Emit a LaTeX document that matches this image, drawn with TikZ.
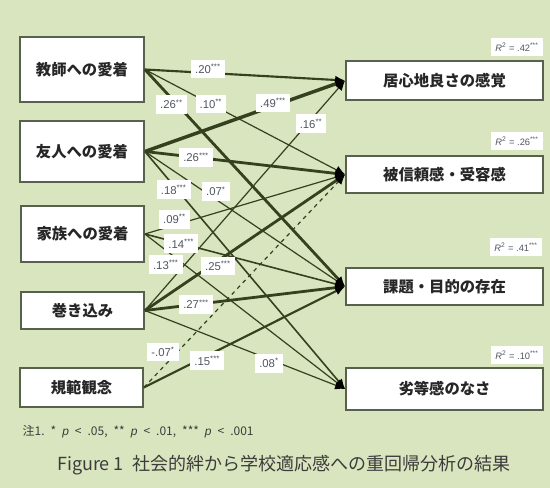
\documentclass[tikz,border=0pt]{standalone}
\usepackage{fontspec}
\setmainfont{Liberation Sans}
\newfontfamily\jp{Noto Sans CJK JP}
\newfontfamily\lat{Liberation Sans}
\usetikzlibrary{arrows.meta}
\definecolor{bg}{RGB}{217,229,190}
\definecolor{edgec}{RGB}{52,64,30}
\definecolor{boxline}{RGB}{88,96,78}
\definecolor{labtext}{RGB}{80,86,98}
\definecolor{captext}{RGB}{60,60,60}
\tikzset{
  box/.style={draw=boxline, fill=white, line width=1.3pt, inner sep=0pt,
    font=\jp\bfseries\fontsize{11.5}{13}\selectfont, text=black!85},
  rel/.style={draw=edgec, -{Latex[length=7.5pt,width=6.5pt,color=black]}},
  lwa/.style={rel, line width=0.9pt},
  lwb/.style={rel, line width=1.2pt},
  lwc/.style={rel, line width=1.6pt},
  lwd/.style={rel, line width=2.1pt},
  lwe/.style={rel, line width=2.6pt},
  lab/.style={fill=white, text=labtext, font=\fontsize{8.5}{9}\selectfont,
    inner xsep=3pt, inner ysep=3.5pt},
  rsq/.style={fill=white, text=labtext, font=\fontsize{7}{8}\selectfont,
    inner xsep=3pt, inner ysep=3.5pt}
}
\begin{document}
\begin{tikzpicture}[x=0.75pt, y=-0.75pt]
\fill[bg] (0,0) rectangle (550,488);
\useasboundingbox (0,0) rectangle (550,488);
% left boxes
\node[box, minimum width=124*0.75pt, minimum height=65*0.75pt] (T) at (82,69.5) {教師への愛着};
\node[box, minimum width=124*0.75pt, minimum height=61*0.75pt] (Y) at (82,151.5) {友人への愛着};
\node[box, minimum width=123*0.75pt, minimum height=56*0.75pt] (F) at (82.5,234) {家族への愛着};
\node[box, minimum width=123*0.75pt, minimum height=37*0.75pt] (M) at (82.5,310.5) {巻き込み};
\node[box, minimum width=123*0.75pt, minimum height=39*0.75pt] (N) at (81.5,387.5) {規範観念};
% right boxes
\node[box, minimum width=197*0.75pt, minimum height=39*0.75pt] (I) at (444.5,80.5) {居心地良さの感覚};
\node[box, minimum width=197*0.75pt, minimum height=37*0.75pt] (H) at (444.5,174.5) {被信頼感・受容感};
\node[box, minimum width=197*0.75pt, minimum height=37*0.75pt] (K) at (444.5,286.5) {課題・目的の存在};
\node[box, minimum width=197*0.75pt, minimum height=42*0.75pt] (R) at (444.5,389) {劣等感のなさ};
% R squared
\node[rsq] (r1) at (517,47) {\textit{R}\textsuperscript{2} = .42\textsuperscript{***}};
\node[rsq] (r2) at (517,141) {\textit{R}\textsuperscript{2} = .26\textsuperscript{***}};
\node[rsq] (r3) at (516,247) {\textit{R}\textsuperscript{2} = .41\textsuperscript{***}};
\node[rsq] (r4) at (517,355) {\textit{R}\textsuperscript{2} = .10\textsuperscript{***}};
% connectors
\draw[lwc] (T.east) -- (I.west) coordinate[pos=0.315] (cTI);
\draw[lwa] (T.east) -- (H.west) coordinate[pos=0.33] (cTH);
\draw[lwd] (T.east) -- (K.west) coordinate[pos=0.133] (cTK);
\draw[lwe] (Y.east) -- (I.west) coordinate[pos=0.64] (cYI);
\draw[lwd] (Y.east) -- (H.west) coordinate[pos=0.256] (cYH);
\draw[lwa] (Y.east) -- (K.west) coordinate[pos=0.355] (cYK);
\draw[lwb] (Y.east) -- (R.west) coordinate[pos=0.144] (cYR);
\draw[lwa] (F.east) -- (H.west) coordinate[pos=0.148] (cFH);
\draw[lwb] (F.east) -- (K.west) coordinate[pos=0.182] (cFK);
\draw[lwa] (F.east) -- (R.west) coordinate[pos=0.12] (cFR);
\draw[lwa] (M.east) -- (I.west) coordinate[pos=0.83] (cMI);
\draw[lwd] (M.east) -- (H.west) coordinate[pos=0.365] (cMH);
\draw[lwd] (M.east) -- (K.west) coordinate[pos=0.256] (cMK);
\draw[lwa] (M.east) -- (R.west) coordinate[pos=0.62] (cMR);
\draw[lwa, dashed] (N.east) -- (H.west) coordinate[pos=0.12] (cNH);
\draw[lwc] (N.east) -- (K.west) coordinate[pos=0.315] (cNK);
% coefficient labels
\node[lab] (lTI) at ([shift={(0,-4)}]cTI) {.20\textsuperscript{***}};
\node[lab] (lTH) at (cTH) {.10\textsuperscript{**}};
\node[lab] (lTK) at ([shift={(0,6)}]cTK) {.26\textsuperscript{**}};
\node[lab] (lYI) at ([shift={(0,-3)}]cYI) {.49\textsuperscript{***}};
\node[lab] (lYH) at (cYH) {.26\textsuperscript{***}};
\node[lab] (lYK) at ([shift={(0,-8)}]cYK) {.07\textsuperscript{*}};
\node[lab] (lYR) at ([shift={(0,4)}]cYR) {.18\textsuperscript{***}};
\node[lab] (lFH) at ([shift={(0,-6)}]cFH) {.09\textsuperscript{**}};
\node[lab] (lFK) at (cFK) {.14\textsuperscript{***}};
\node[lab] (lFR) at ([shift={(-3,12)}]cFR) {.13\textsuperscript{***}};
\node[lab] (lMI) at ([shift={(0,4)}]cMI) {.16\textsuperscript{**}};
\node[lab] (lMH) at ([shift={(0,5)}]cMH) {.25\textsuperscript{***}};
\node[lab] (lMK) at (cMK) {.27\textsuperscript{***}};
\node[lab] (lMR) at ([shift={(0,4)}]cMR) {.08\textsuperscript{*}};
\node[lab] (lNH) at ([shift={(-5,-10)}]cNH) {-.07\textsuperscript{*}};
\node[lab] (lNK) at ([shift={(0,5)}]cNK) {.15\textsuperscript{***}};
% note and caption
\node[anchor=west, text=captext, font=\jp\fontsize{9}{10}\selectfont] (note) at (18,432)
  {注1.\enspace*\enspace{\lat\itshape p}\enspace<\enspace.05,\enspace**\enspace{\lat\itshape p}\enspace<\enspace.01,\enspace***\enspace{\lat\itshape p}\enspace<\enspace.001};
\node[text=captext, font=\jp\fontsize{13.5}{15}\selectfont] (cap) at (284,465)
  {Figure 1\enspace 社会的絆から学校適応感への重回帰分析の結果};
\end{tikzpicture}
\end{document}
